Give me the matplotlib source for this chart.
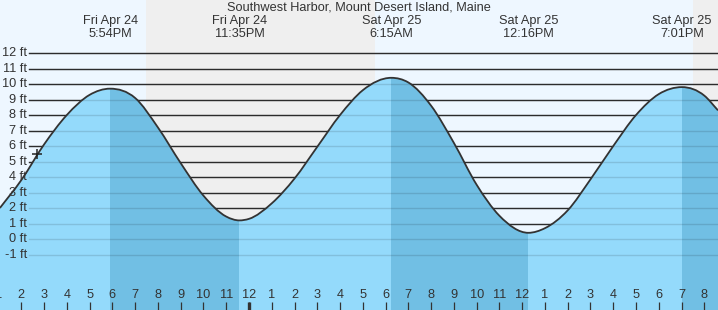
import numpy as np
import matplotlib.pyplot as plt
import matplotlib.transforms as mtransforms
from matplotlib.path import Path
from matplotlib.patches import PathPatch

plt.rcParams['font.family'] = ['Liberation Sans', 'DejaVu Sans']

# DATOS (horas contadas desde el viernes 24 de abril 00:00)

titulo = "Southwest Harbor, Mount Desert Island, Maine"

tide_hours = [13.06, 14, 15, 16, 17, 17.9, 19, 20, 21, 22, 23, 23.58,
              24, 25, 26, 27, 28, 29, 30.25, 31, 32, 33, 34, 35, 36.27,
              37, 38, 39, 40, 41, 42, 43.02, 44, 44.6]
tide_ft = [2.0, 3.8, 6.1, 8.0, 9.3, 9.7, 9.1, 7.2, 4.9, 2.8, 1.45, 1.2,
           1.3, 2.3, 3.9, 5.95, 8.0, 9.6, 10.4, 10.1, 8.6, 6.2, 3.5, 1.5, 0.4,
           0.7, 1.85, 3.85, 6.0, 8.0, 9.35, 9.8, 9.25, 8.3]

extreme_hours = [17.9, 23.58, 30.25, 36.27, 43.02]
extreme_high = [True, False, True, False, True]
extreme_labels = ["Fri Apr 24\n5:54PM", "Fri Apr 24\n11:35PM",
                  "Sat Apr 25\n6:15AM", "Sat Apr 25\n12:16PM",
                  "Sat Apr 25\n7:01PM"]

now_hour = 14.69
now_ft = 5.5

sunset_hours = [19.48, 43.51]
sunrise_hours = [29.53, 44.6]

hour_ticks = list(range(13, 45))
hour_labels = [str((h - 1) % 12 + 1) for h in hour_ticks]
ft_levels = list(range(-1, 13))

# ESTILO

X_MIN, X_MAX = 13.065, 44.6
Y_MIN, Y_MAX = -4.58, 15.42
W_PX, H_PX = 718, 310

DAY = "#EEF7FF"
NIGHT = "#EFEFEF"
WATER = "#94DAFB"
WATER_EBB = "#71BFE4"
INK = "#333333"
FS = 9.2


def curva_suave(x, y):
    # Curva cubica de Hermite (pendiente 0 en pleamar/bajamar) como Path de Bezier
    x = np.asarray(x, float)
    y = np.asarray(y, float)
    h = np.diff(x)
    d = np.diff(y) / h
    m = np.zeros_like(y)
    m[0], m[-1] = d[0], d[-1]
    for k in range(1, len(y) - 1):
        if d[k - 1] * d[k] > 0:
            m[k] = (h[k] * d[k - 1] + h[k - 1] * d[k]) / (h[k - 1] + h[k])
    verts = [(x[0], y[0])]
    codes = [Path.MOVETO]
    for k in range(len(h)):
        verts += [(x[k] + h[k] / 3, y[k] + m[k] * h[k] / 3),
                  (x[k + 1] - h[k] / 3, y[k + 1] - m[k + 1] * h[k] / 3),
                  (x[k + 1], y[k + 1])]
        codes += [Path.CURVE4] * 3
    return verts, codes


fig = plt.figure(figsize=(W_PX / 100, H_PX / 100), dpi=100)
fig.patch.set_facecolor(DAY)
ax = fig.add_axes([0, 0, 1, 1])
ax.set_facecolor(DAY)
ax.set_xlim(X_MIN, X_MAX)
ax.set_ylim(Y_MIN, Y_MAX)
ax.axis("off")

# Noche
for a, b in zip(sunset_hours, sunrise_hours):
    ax.axvspan(a, b, color=NIGHT, lw=0, zorder=0)

# Lineas de nivel
x0 = 29 / W_PX
for lv in ft_levels:
    ax.axhline(lv, xmin=x0, xmax=1, color=INK, lw=1.0, zorder=1)

# Agua
verts, codes = curva_suave(tide_hours, tide_ft)
wv = verts + [(tide_hours[-1], Y_MIN - 1), (tide_hours[0], Y_MIN - 1), verts[0]]
wc = codes + [Path.LINETO, Path.LINETO, Path.CLOSEPOLY]
water = PathPatch(Path(wv, wc), facecolor=WATER, edgecolor="none", zorder=2)
ax.add_patch(water)

# Marea bajante (de pleamar a bajamar) mas oscura
for i, t in enumerate(extreme_hours):
    if extreme_high[i]:
        fin = extreme_hours[i + 1] if i + 1 < len(extreme_hours) else X_MAX + 1
        span = ax.axvspan(t, fin, color=WATER_EBB, lw=0, zorder=2.1)
        span.set_clip_path(water)

for lv in ft_levels:
    ax.axhline(lv, xmin=x0, xmax=1, color="black", alpha=0.12, lw=1.0, zorder=3)

ax.add_patch(PathPatch(Path(verts, codes), fill=False, edgecolor=INK, lw=1.3, zorder=4))

ax.plot(now_hour, now_ft, marker="+", ms=7, mew=1.1, color="#222222", zorder=6)

# Etiquetas eje Y
ty = mtransforms.blended_transform_factory(ax.transAxes, ax.transData)
for lv in ft_levels:
    ax.text(27 / W_PX, lv, f"{lv} ft", transform=ty, ha="right", va="center",
            fontsize=FS, color=INK, zorder=7)

# Eje de horas
tx = mtransforms.blended_transform_factory(ax.transData, ax.transAxes)
tick_top = 8.3 / H_PX
ax.vlines(hour_ticks, 0, tick_top, transform=tx, color=INK, lw=0.9, zorder=7)
ax.vlines([24], 0, tick_top, transform=tx, color=INK, lw=2.4, zorder=7)
for h, lab in zip(hour_ticks, hour_labels):
    ax.text(h, 14.5 / H_PX, lab, transform=tx, ha="center", va="center",
            fontsize=FS, color=INK, zorder=7)

# Titulo y horas de pleamar / bajamar
ax.text(0.5, 1 - 8 / H_PX, titulo, transform=ax.transAxes, ha="center",
        va="center", fontsize=FS, color=INK, zorder=7)
for t, lab in zip(extreme_hours, extreme_labels):
    ax.text(t, 1 - 27.5 / H_PX, lab, transform=tx, ha="center", va="center",
            fontsize=FS, color=INK, linespacing=1.03, zorder=7)

fig.savefig("out.png", dpi=100, facecolor=fig.get_facecolor())
plt.close(fig)
